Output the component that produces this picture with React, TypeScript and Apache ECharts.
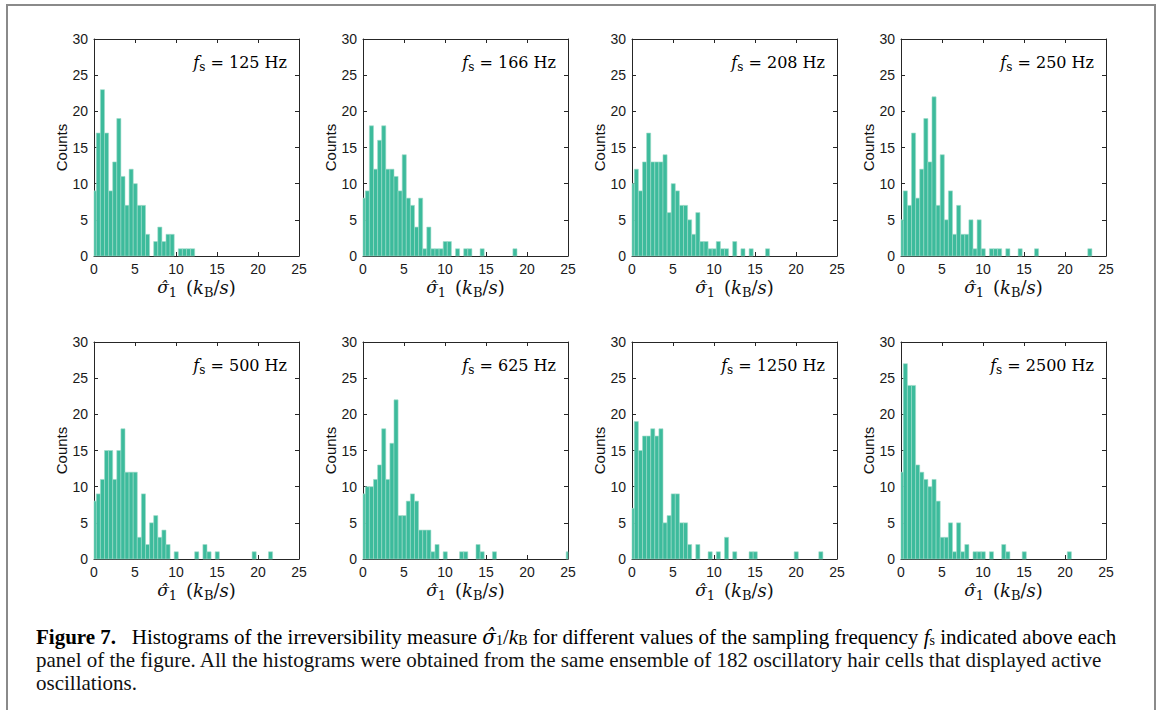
import React, { useEffect, useRef } from "react";
import * as echarts from "echarts";

// ---------- data (counts per 0.5-wide bin, first bin edge at -0.22) ----------
const BIN_START = -0.22;
const BIN_WIDTH = 0.5;
const X_MIN = 0;
const X_MAX = 25;
const X_INTERVAL = 5;
const Y_MIN = 0;
const Y_MAX = 30;
const Y_INTERVAL = 5;

const FREQUENCIES = ["125", "166", "208", "250", "500", "625", "1250", "2500"];

const counts125 = [9, 17, 23, 17, 9, 13, 19, 11, 7, 12, 10, 7, 7, 3, 0, 2, 4, 2, 3, 3, 0, 1, 1, 1, 1];
const counts166 = [8, 9, 18, 12, 16, 18, 12, 12, 11, 9, 14, 8, 7, 4, 8, 1, 4, 1, 1, 1, 2, 2, 0, 1, 0, 1, 1, 0, 0, 1, 0, 0, 0, 0, 0, 0, 0, 1];
const counts208 = [10, 12, 9, 13, 17, 13, 13, 13, 14, 6, 10, 9, 7, 7, 5, 3, 6, 2, 2, 1, 1, 2, 1, 1, 0, 2, 0, 1, 0, 1, 0, 0, 0, 1];
const counts250 = [5, 9, 7, 17, 8, 12, 19, 13, 22, 7, 14, 5, 9, 3, 7, 3, 3, 5, 1, 5, 1, 0, 1, 1, 1, 0, 1, 0, 0, 1, 0, 0, 0, 1, 0, 0, 0, 0, 0, 0, 0, 0, 0, 0, 0, 0, 1];
const counts500 = [8, 9, 11, 15, 15, 11, 15, 18, 12, 12, 12, 3, 9, 2, 5, 6, 3, 4, 2, 0, 1, 0, 0, 0, 0, 1, 0, 2, 1, 0, 1, 0, 0, 0, 0, 0, 0, 0, 0, 1, 0, 0, 0, 1];
const counts625 = [9, 10, 10, 11, 13, 18, 11, 16, 22, 6, 6, 8, 9, 8, 4, 4, 4, 1, 2, 0, 1, 0, 0, 0, 1, 1, 0, 0, 2, 1, 0, 0, 1, 0, 0, 0, 0, 0, 0, 0, 0, 0, 0, 0, 0, 0, 0, 0, 0, 0, 1];
const counts1250 = [7, 19, 15, 17, 17, 18, 17, 18, 5, 6, 9, 9, 5, 5, 2, 0, 2, 0, 0, 1, 0, 1, 0, 3, 0, 1, 0, 0, 0, 1, 1, 0, 0, 0, 0, 0, 0, 0, 0, 0, 1, 0, 0, 0, 0, 0, 1];
const counts2500 = [12, 27, 24, 24, 13, 12, 11, 10, 11, 8, 3, 3, 5, 1, 5, 1, 2, 0, 1, 1, 1, 0, 1, 0, 0, 2, 1, 0, 0, 0, 1, 0, 0, 0, 0, 0, 0, 0, 0, 0, 0, 1];

const ALL_COUNTS = [counts125, counts166, counts208, counts250, counts500, counts625, counts1250, counts2500];

const Y_NAME = "Counts";
const CAPTION_LINE_2 =
  "panel of the figure. All the histograms were obtained from the same ensemble of 182 oscillatory hair cells that displayed active";
const CAPTION_LINE_3 = "oscillations.";

// ---------- styling / layout ----------
const FONT_SANS = "'Liberation Sans', Arial, Helvetica, sans-serif";
const FONT_SERIF = "'Liberation Serif', 'Times New Roman', serif";
const FONT_MATH = "'DejaVu Serif', serif";
const AXIS_COLOR = "#262626";
const BAR_FILL = "#3dbb9c";
const BAR_EDGE = "#9fdcca";

const GRID_LEFTS = [94, 363, 632, 901];
const GRID_TOPS = [39, 342];
const GRID_W = 205;
const GRID_H = 217;

const mathRich = (family: string, size: number, subSize: number, lh: number, subLh: number) => ({
  r: { fontFamily: family, fontSize: size, color: "#111", lineHeight: lh },
  i: { fontFamily: family, fontSize: size, fontStyle: "italic", color: "#111", lineHeight: lh },
  h: { fontFamily: FONT_MATH, fontSize: size - 1, fontStyle: "italic", color: "#111", lineHeight: lh },
  b: { fontFamily: family, fontSize: size, fontWeight: "bold", color: "#111", lineHeight: lh },
  sub: { fontFamily: family, fontSize: subSize, color: "#111", lineHeight: subLh, verticalAlign: "bottom" },
});

function histogram(counts: number[]) {
  const out: number[][] = [];
  counts.forEach((c, i) => {
    if (c > 0) out.push([BIN_START + i * BIN_WIDTH, BIN_START + (i + 1) * BIN_WIDTH, c]);
  });
  return out;
}

function renderBar(params: any, api: any) {
  const p0 = api.coord([api.value(0), api.value(2)]);
  const p1 = api.coord([api.value(1), 0]);
  const cs = params.coordSys;
  const shape = echarts.graphic.clipRectByRect(
    { x: p0[0], y: p0[1], width: p1[0] - p0[0], height: p1[1] - p0[1] },
    { x: cs.x, y: cs.y, width: cs.width, height: cs.height }
  );
  if (!shape) return undefined;
  return {
    type: "rect",
    shape,
    style: { fill: BAR_FILL, stroke: BAR_EDGE, lineWidth: 0.6 },
  };
}

function buildOption() {
  const grid: any[] = [];
  const xAxis: any[] = [];
  const yAxis: any[] = [];
  const series: any[] = [];
  const graphic: any[] = [];

  const axisLine = { show: true, onZero: false, lineStyle: { color: AXIS_COLOR, width: 1 } };
  const axisTick = { show: true, inside: true, length: 4, lineStyle: { color: AXIS_COLOR, width: 1 } };
  const axisLabel = { show: true, fontFamily: FONT_SANS, fontSize: 14, color: "#1a1a1a", margin: 6 };

  FREQUENCIES.forEach((fs, i) => {
    const row = Math.floor(i / 4);
    const col = i % 4;
    const left = GRID_LEFTS[col];
    const top = GRID_TOPS[row];
    grid.push({ left, top, width: GRID_W, height: GRID_H, containLabel: false });

    const xCommon = {
      type: "value",
      gridIndex: i,
      min: X_MIN,
      max: X_MAX,
      interval: X_INTERVAL,
      splitLine: { show: false },
      axisLine,
      axisTick,
    };
    xAxis.push({
      ...xCommon,
      position: "bottom",
      axisLabel,
      name: "{h|σ̂}{sub|1}{r|\u2002(}{i|k}{sub|B}{r|/}{i|s}{r|)}",
      nameLocation: "middle",
      nameGap: 19,
      nameTextStyle: { rich: mathRich(FONT_MATH, 18, 13, 24, 13) },
    });
    xAxis.push({ ...xCommon, position: "top", axisLabel: { show: false } });

    const yCommon = {
      type: "value",
      gridIndex: i,
      min: Y_MIN,
      max: Y_MAX,
      interval: Y_INTERVAL,
      splitLine: { show: false },
      axisLine,
      axisTick,
    };
    yAxis.push({
      ...yCommon,
      position: "left",
      axisLabel,
      name: Y_NAME,
      nameLocation: "middle",
      nameGap: 24,
      nameRotate: 90,
      nameTextStyle: { fontFamily: FONT_SANS, fontSize: 15, color: "#111" },
    });
    yAxis.push({ ...yCommon, position: "right", axisLabel: { show: false } });

    series.push({
      type: "custom",
      xAxisIndex: 2 * i,
      yAxisIndex: 2 * i,
      renderItem: renderBar,
      encode: { x: [0, 1], y: 2 },
      data: histogram(ALL_COUNTS[i]),
      z: 2,
    });

    graphic.push({
      type: "text",
      x: left + GRID_W - 12,
      y: top + 23,
      z: 10,
      style: {
        text: `{i|f}{sub|s}{r| = ${fs} Hz}`,
        rich: mathRich(FONT_MATH, 16, 12, 22, 12),
        align: "right",
        verticalAlign: "middle",
      },
    });
  });

  // figure frame
  graphic.push({
    type: "rect",
    shape: { x: 7, y: 5, width: 1148, height: 800 },
    style: { fill: "none", stroke: "#8a8a8a", lineWidth: 2 },
    z: 0,
  });

  // caption
  const capRich = mathRich(FONT_SERIF, 21, 14, 21, 10);
  graphic.push({
    type: "text",
    x: 36,
    y: 636.5,
    style: {
      text:
        "{b|Figure 7.}{r|\u2002 Histograms of the irreversibility measure }{h|σ̂}{sub|1}{r|/}{i|k}{sub|B}{r| for different values of the sampling frequency }{i|f}{sub|s}{r| indicated above each}",
      rich: capRich,
      align: "left",
      verticalAlign: "middle",
    },
  });
  graphic.push({
    type: "text",
    x: 36,
    y: 659.5,
    style: {
      text: CAPTION_LINE_2,
      font: `21px ${FONT_SERIF}`,
      fill: "#111",
      align: "left",
      verticalAlign: "middle",
    },
  });
  graphic.push({
    type: "text",
    x: 36,
    y: 683,
    style: {
      text: CAPTION_LINE_3,
      font: `21px ${FONT_SERIF}`,
      fill: "#111",
      align: "left",
      verticalAlign: "middle",
    },
  });

  return {
    animation: false,
    backgroundColor: "#ffffff",
    grid,
    xAxis,
    yAxis,
    series,
    graphic,
  };
}

export default function App() {
  const ref = useRef<HTMLDivElement>(null);
  useEffect(() => {
    if (!ref.current) return;
    const chart = echarts.init(ref.current, null, { renderer: "svg" });
    chart.setOption(buildOption() as any);
    return () => chart.dispose();
  }, []);
  return (
    <div
      style={{
        position: "fixed",
        left: 0,
        top: 0,
        width: 1163,
        height: 710,
        overflow: "hidden",
        background: "#fff",
      }}
    >
      <div ref={ref} style={{ width: 1163, height: 710 }} />
    </div>
  );
}
